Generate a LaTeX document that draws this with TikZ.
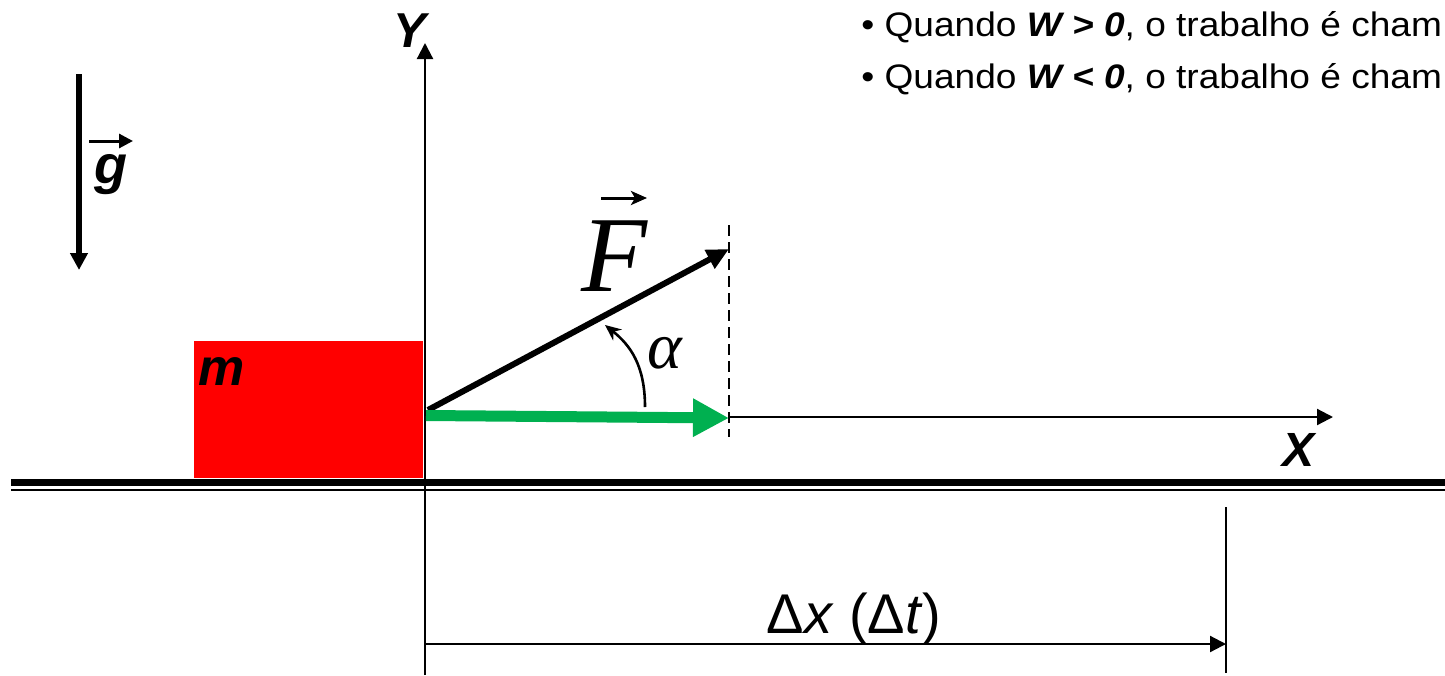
\documentclass[tikz,border=0pt]{standalone}
\usepackage{fontspec}
\setmainfont{Liberation Sans}
\newfontfamily\timesfont{Liberation Serif}
\newfontfamily\topfont[FakeStretch=1.09]{Liberation Sans}
\usetikzlibrary{arrows.meta}
\definecolor{blockred}{HTML}{FF0000}
\definecolor{forcegreen}{HTML}{00B050}
\tikzset{
  lbl/.style={inner sep=0pt, anchor=base},
  axisline/.style={line width=1.1pt, -{Triangle[length=8pt,width=8pt]}},
  bigit/.style={font=\fontsize{#1}{#1}\selectfont\bfseries\itshape},
  toptext/.style={anchor=base west, inner sep=0pt, font=\topfont\fontsize{17}{20}\selectfont},
}
\begin{document}
\begin{tikzpicture}[x=0.5pt,y=-0.5pt]
\useasboundingbox (0,0) rectangle (1445,675);
% ground
\coordinate (gl1) at (11,482.5); \coordinate (gr1) at (1445,482.5);
\coordinate (gl2) at (11,490.3); \coordinate (gr2) at (1445,490.3);
\draw[line width=3.5pt] (gl1) -- (gr1);
\draw[line width=1pt] (gl2) -- (gr2);
% block
\node (block) [fill=blockred, inner sep=0pt, minimum width=114.5pt, minimum height=68.5pt, anchor=north west] at (194,341) {};
\node (mlab) [lbl, bigit=26] at (222,385) {m};
% Y axis
\coordinate (ybot) at (425,675); \coordinate (ytop) at (425,43);
\draw[axisline] (ybot) -- (ytop);
\node (ylab) [lbl, bigit=24.5] at (410,47) {Y};
% gravity
\coordinate (gtop) at (79,74); \coordinate (gbot) at (79,270);
\draw[line width=3pt, -{Triangle[length=8.5pt,width=8.5pt]}] (gtop) -- (gbot);
\node (glab) [lbl, bigit=27] at (111,183) {g};
\coordinate (gvl) at (89,141); \coordinate (gvr) at (133,141);
\draw[line width=1.5pt, -{Triangle[length=7pt,width=7pt]}] (gvl) -- (gvr);
% force
\coordinate (o) at (428,410);
\coordinate (ftip) at (729,249);
\draw[line width=3pt, -{Triangle[length=11pt,width=10pt]}] (o) -- (ftip);
\coordinate (gs) at (426,415.5); \coordinate (gt) at (729,418);
\draw[forcegreen, line width=5.5pt, -{Triangle[length=18pt,width=18pt]}] (gs) -- (gt);
% dashed
\coordinate (dtop) at (729,225); \coordinate (dbot) at (729,437);
\draw[line width=1pt, dash pattern=on 5.5pt off 3pt] (dtop) -- (dbot);
% X axis
\coordinate (xs) at (729,417); \coordinate (xe) at (1333,417);
\draw[axisline] (xs) -- (xe);
\node (xlab) [lbl, bigit=24] at (1298,466) {X};
% F label
\node (flab) [lbl, font=\timesfont\itshape\fontsize{54}{60}\selectfont] at (614,291) {F};
\coordinate (fvl) at (601,198); \coordinate (fvr) at (647,198);
\draw[line width=1.5pt, -{Stealth[length=8pt,width=7pt,inset=2pt]}] (fvl) -- (fvr);
% alpha
\coordinate (as) at (645,407); \coordinate (ae) at (605,325);
\draw[line width=1.3pt, -{Stealth[length=8pt,width=7pt]}] (as) .. controls (645,365) and (630,345) .. (ae);
\node (alab) [lbl, font=\timesfont\itshape\fontsize{33}{36}\selectfont] at (665,368) {α};
% dimension
\coordinate (dimtop) at (1226,507); \coordinate (dimbot) at (1226,673);
\draw[line width=1.2pt] (dimtop) -- (dimbot);
\coordinate (ds) at (425,644); \coordinate (de) at (1226,644);
\draw[line width=1.1pt, -{Triangle[length=8pt,width=8pt]}] (ds) -- (de);
\node (dlab) [lbl, font=\fontsize{28}{30}\selectfont] at (854,633) {Δ\textit{x} (Δ\textit{t})};
% top text
\node (t1) [toptext] at (861,36) {• Quando \textbf{\textit{W > 0}}, o trabalho é cham};
\node (t2) [toptext] at (861,88) {• Quando \textbf{\textit{W < 0}}, o trabalho é cham};
\end{tikzpicture}
\end{document}
